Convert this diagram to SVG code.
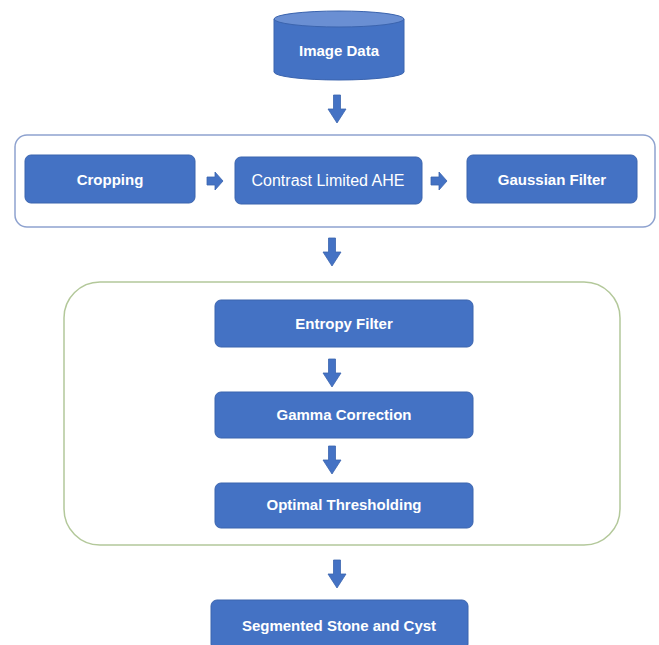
<svg xmlns="http://www.w3.org/2000/svg" width="659" height="645" viewBox="0 0 659 645">
  <style>
    .box { fill: #4472c4; stroke: #3b64ae; stroke-width: 1; }
    .arrow { fill: #4472c4; stroke: #3b64ae; stroke-width: 0.8; }
    .lbl { font-family: "Liberation Sans", Arial, sans-serif; font-size: 15px; font-weight: bold; fill: #ffffff; text-anchor: middle; }
    .lbl-reg { font-family: "Liberation Sans", Arial, sans-serif; font-size: 16px; fill: #ffffff; text-anchor: middle; }
  </style>
  <defs>
    <!-- block arrow pointing down, origin at top-centre of shaft -->
    <path id="down" d="M -3.5 0 H 3.5 V 14 H 9 L 0 28 L -9 14 H -3.5 Z"/>
    <!-- block arrow pointing right, origin at left-centre of shaft -->
    <path id="right" d="M 0 -4 H 8 V -9 L 16 0 L 8 9 V 4 H 0 Z"/>
  </defs>
  <rect width="659" height="645" fill="#ffffff"/>

  <!-- grouping containers -->
  <g id="preprocessing-group">
    <rect x="15" y="135" width="640" height="92" rx="12" fill="none" stroke="#8ea2cf" stroke-width="1.5"/>
  </g>
  <g id="segmentation-group">
    <rect x="64" y="282" width="556" height="263" rx="36" fill="none" stroke="#b3c89a" stroke-width="1.5"/>
  </g>

  <!-- nodes -->
  <g id="image-data">
    <path class="box" d="M 274 19 V 72 A 65 8 0 0 0 404 72 V 19"/>
    <ellipse cx="339" cy="19" rx="65" ry="8" fill="#6a8fd3" stroke="#3b64ae" stroke-width="1"/>
    <text class="lbl" x="339" y="56">Image Data</text>
  </g>
  <g id="cropping">
    <rect class="box" x="25" y="155" width="170" height="48" rx="6"/>
    <text class="lbl" x="110" y="185">Cropping</text>
  </g>
  <g id="clahe">
    <rect class="box" x="235" y="157" width="187" height="47" rx="6"/>
    <text class="lbl-reg" x="328" y="186">Contrast Limited AHE</text>
  </g>
  <g id="gaussian-filter">
    <rect class="box" x="467" y="155" width="170" height="48" rx="6"/>
    <text class="lbl" x="552" y="185">Gaussian Filter</text>
  </g>
  <g id="entropy-filter">
    <rect class="box" x="215" y="300" width="258" height="47" rx="6"/>
    <text class="lbl" x="344" y="329">Entropy Filter</text>
  </g>
  <g id="gamma-correction">
    <rect class="box" x="215" y="392" width="258" height="46" rx="6"/>
    <text class="lbl" x="344" y="420">Gamma Correction</text>
  </g>
  <g id="optimal-thresholding">
    <rect class="box" x="215" y="483" width="258" height="45" rx="6"/>
    <text class="lbl" x="344" y="510">Optimal Thresholding</text>
  </g>
  <g id="segmented-output">
    <rect class="box" x="211" y="600" width="257" height="50" rx="6"/>
    <text class="lbl" x="339" y="631">Segmented Stone and Cyst</text>
  </g>

  <!-- connectors -->
  <g id="connectors">
    <use href="#down" class="arrow" x="337" y="95"/>
    <use href="#right" class="arrow" x="207" y="181"/>
    <use href="#right" class="arrow" x="431" y="181"/>
    <use href="#down" class="arrow" x="332" y="238"/>
    <use href="#down" class="arrow" x="332" y="359"/>
    <use href="#down" class="arrow" x="332" y="446"/>
    <use href="#down" class="arrow" x="337" y="560"/>
  </g>
</svg>
